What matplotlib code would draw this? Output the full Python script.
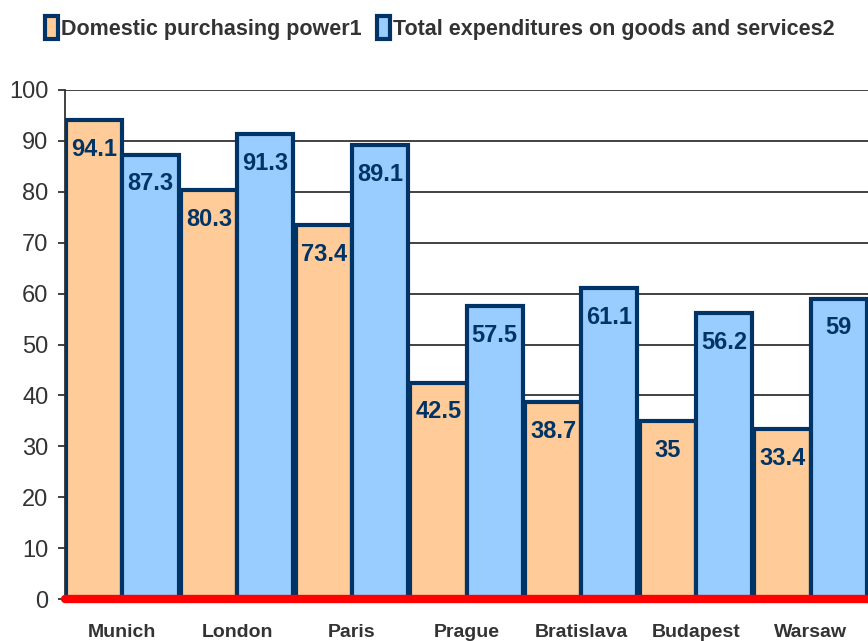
import matplotlib.pyplot as plt
import numpy as np

cities = ["Munich", "London", "Paris", "Prague", "Bratislava", "Budapest", "Warsaw"]
purchasing_power = [94.1, 80.3, 73.4, 42.5, 38.7, 35, 33.4]
expenditures = [87.3, 91.3, 89.1, 57.5, 61.1, 56.2, 59]
labels_pp = ["94.1", "80.3", "73.4", "42.5", "38.7", "35", "33.4"]
labels_exp = ["87.3", "91.3", "89.1", "57.5", "61.1", "56.2", "59"]

NAVY = "#003366"
FONT = ["Liberation Sans", "DejaVu Sans"]
plt.rcParams["font.family"] = FONT

fig = plt.figure(figsize=(8.68, 6.41), dpi=100)
ax = fig.add_axes([65/868, 42/641, 803/868, 509/641])

x = np.arange(len(cities))
w = 0.49
b1 = ax.bar(x - w/2, purchasing_power, w, color="#FFCC99", edgecolor=NAVY,
            linewidth=3, label="Domestic purchasing power1", zorder=3)
b2 = ax.bar(x + w/2, expenditures, w, color="#99CCFF", edgecolor=NAVY,
            linewidth=3, label="Total expenditures on goods and services2", zorder=3)

for bars, labs in ((b1, labels_pp), (b2, labels_exp)):
    for r, t in zip(bars, labs):
        ax.annotate(t, (r.get_x() + r.get_width()/2, r.get_height()),
                    xytext=(0, -21), textcoords="offset points",
                    ha="center", va="center", fontsize=17, fontweight="bold",
                    color=NAVY, zorder=4)

ax.set_xlim(-0.5, 6.5)
ax.set_ylim(0, 100)
ax.set_yticks(range(0, 101, 10))
ax.yaxis.grid(True, color="#333333", linewidth=1.3, zorder=0)
ax.set_axisbelow(True)
ax.tick_params(axis="y", labelsize=17, colors="#333333", length=5, width=1.3,
               labelcolor="#333333", pad=7)
ax.set_xticks(x)
ax.set_xticklabels(cities, fontsize=14, fontweight="bold", color="#333333")
ax.tick_params(axis="x", length=0, pad=18)

ax.spines["top"].set_visible(False)
ax.spines["right"].set_visible(False)
ax.spines["left"].set_color("#333333")
ax.spines["left"].set_linewidth(1.3)
ax.spines["bottom"].set_color("#FF0000")
ax.spines["bottom"].set_linewidth(6)
ax.spines["bottom"].set_zorder(5)
ax.spines["bottom"].set_capstyle("round")

leg = fig.legend(loc="center", bbox_to_anchor=(440/868, 1 - 28/641), ncol=2,
                 frameon=False, handlelength=0.6, handleheight=1.3,
                 handletextpad=0.15, columnspacing=0.7,
                 prop={"weight": "bold", "size": 15.5})
for t in leg.get_texts():
    t.set_color("#333333")

fig.savefig("out.png", dpi=100)
